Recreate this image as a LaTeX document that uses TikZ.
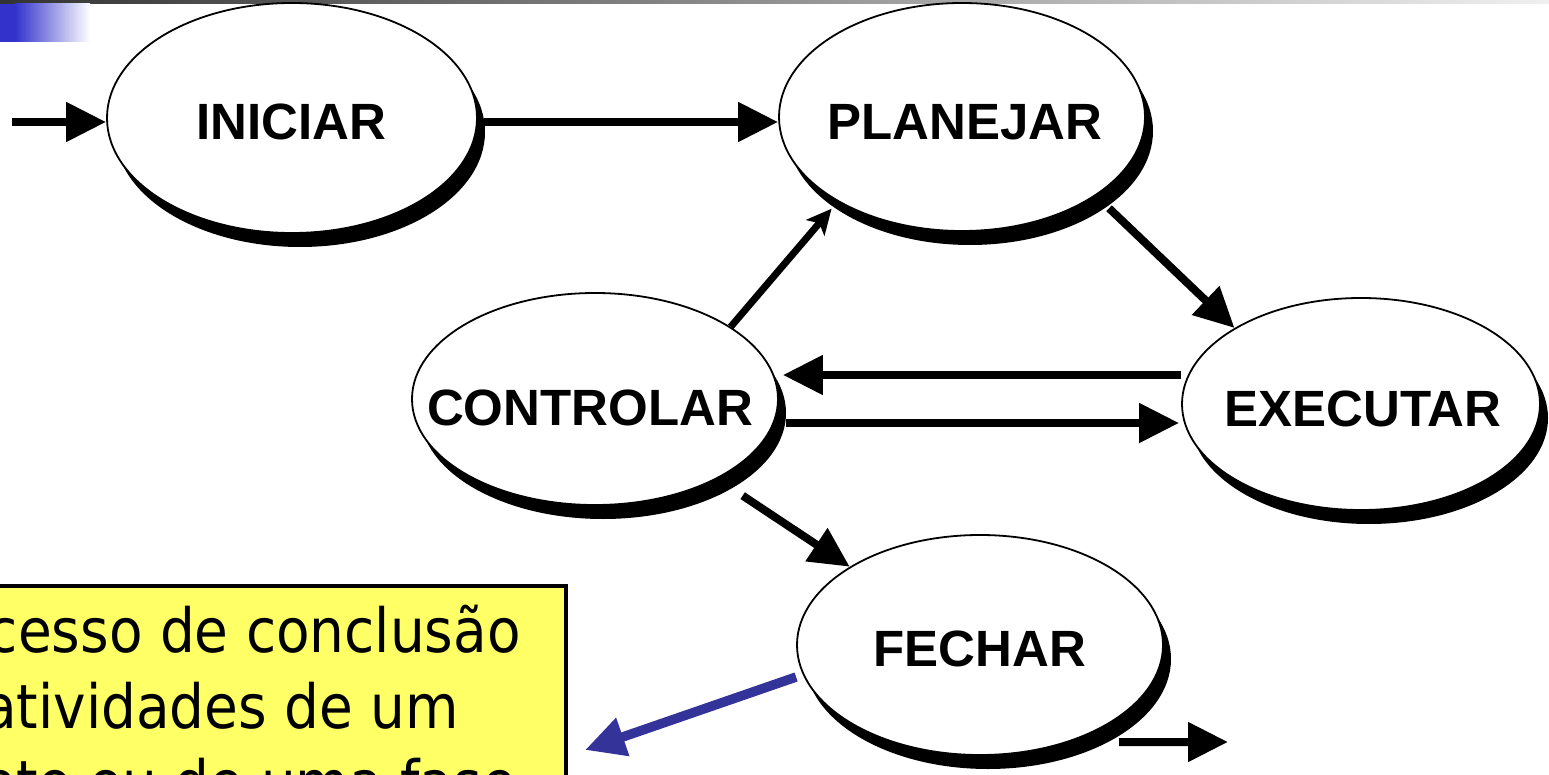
\documentclass[tikz,border=0pt]{standalone}
\usepackage{fontspec}
\setmainfont{Liberation Sans}
\newfontfamily\notefont[FakeStretch=0.9]{DejaVu Sans}
\usetikzlibrary{arrows.meta,shapes.geometric,shadows}

\definecolor{noteyellow}{HTML}{FFFF66}
\definecolor{arrowblue}{HTML}{333399}
\definecolor{barblue}{HTML}{3333CC}
\definecolor{bargray}{HTML}{333333}

\begin{document}
\begin{tikzpicture}[x=1pt,y=-1pt,
  stage/.style={ellipse, draw=black, line width=1.8pt, fill=white, inner sep=0pt,
    drop shadow={shadow xshift=8pt, shadow yshift=-14pt, fill=black, opacity=1}},
  stagetext/.style={font=\fontsize{51}{60}\selectfont\bfseries, inner sep=0pt},
  flow/.style={line width=8pt, -{Triangle[length=40pt,width=38pt]}},
  feedback/.style={line width=7pt, -{Stealth[length=25pt,width=24pt,inset=6pt]}},
  pointer/.style={draw=arrowblue, line width=9.5pt, -{Triangle[length=40pt,width=38pt]}},
  notebox/.style={draw=black, line width=3.5pt, fill=noteyellow, inner sep=0pt},
  notetext/.style={font=\notefont\fontsize{61}{76}\selectfont, inner sep=0pt, anchor=base east}]

\useasboundingbox (0,0) rectangle (1549,775);
\clip (0,0) rectangle (1549,775);
\fill[white] (0,0) rectangle (1549,775);

% header band
\shade[left color=bargray, right color=white!94!black] (0,0) rectangle (1549,4);
\fill[barblue] (0,4) rectangle (15,42);
\shade[left color=barblue, right color=white] (15,4) rectangle (90,42);

% note box, partly beyond the left and bottom edges
\node[notebox, minimum width=590pt, minimum height=220pt] (note) at (271,696) {};
\node[notetext] (noteA) at (521,652) {cesso de conclusão};
\node[notetext] (noteB) at (459,728) {atividades de um};
\node[notetext] (noteC) at (516,804) {eto ou de uma fase};

% process stages
\node[stage, minimum width=370pt, minimum height=230pt] (ini)  at (292,118) {};
\node[stage, minimum width=366pt, minimum height=228pt] (plan) at (962,117) {};
\node[stage, minimum width=366pt, minimum height=212pt] (ctrl) at (595,399) {};
\node[stage, minimum width=358pt, minimum height=212pt] (exec) at (1361,404) {};
\node[stage, minimum width=366pt, minimum height=220pt] (fech) at (980,645) {};

\node[stagetext] (iniL)  at (291,122)  {INICIAR};
\node[stagetext] (planL) at (965,122)  {PLANEJAR};
\node[stagetext] (ctrlL) at (590,408)  {CONTROLAR};
\node[stagetext] (execL) at (1363,409) {EXECUTAR};
\node[stagetext] (fechL) at (980,649)  {FECHAR};

% free ends
\coordinate (start) at (12,122);
\coordinate (finish) at (1228,742);
\coordinate (noteTip) at (585,750);

% connectors
\draw[flow] (start) -- ([yshift=-4pt]ini.west);
\draw[flow] ([shift={(6pt,-4pt)}]ini.east) -- ([yshift=-5pt]plan.west);
\draw[flow] ([shift={(17pt,-10pt)}]plan.-32) -- (exec.149);
\draw[feedback] (ctrl.28) -- ([shift={(-8pt,-6pt)}]plan.215);
\draw[flow] ([yshift=29pt]exec.west) -- ([shift={(4pt,24pt)}]ctrl.east);
\draw[flow] ([shift={(7pt,-24pt)}]ctrl.east) -- ([shift={(-2pt,-19pt)}]exec.west);
\draw[flow] ([shift={(25pt,-17pt)}]ctrl.-33) -- (fech.149);
\draw[flow] ([shift={(19pt,-13pt)}]fech.-35) -- (finish);
\draw[pointer] ([yshift=-32pt]fech.west) -- (noteTip);

\end{tikzpicture}
\end{document}
